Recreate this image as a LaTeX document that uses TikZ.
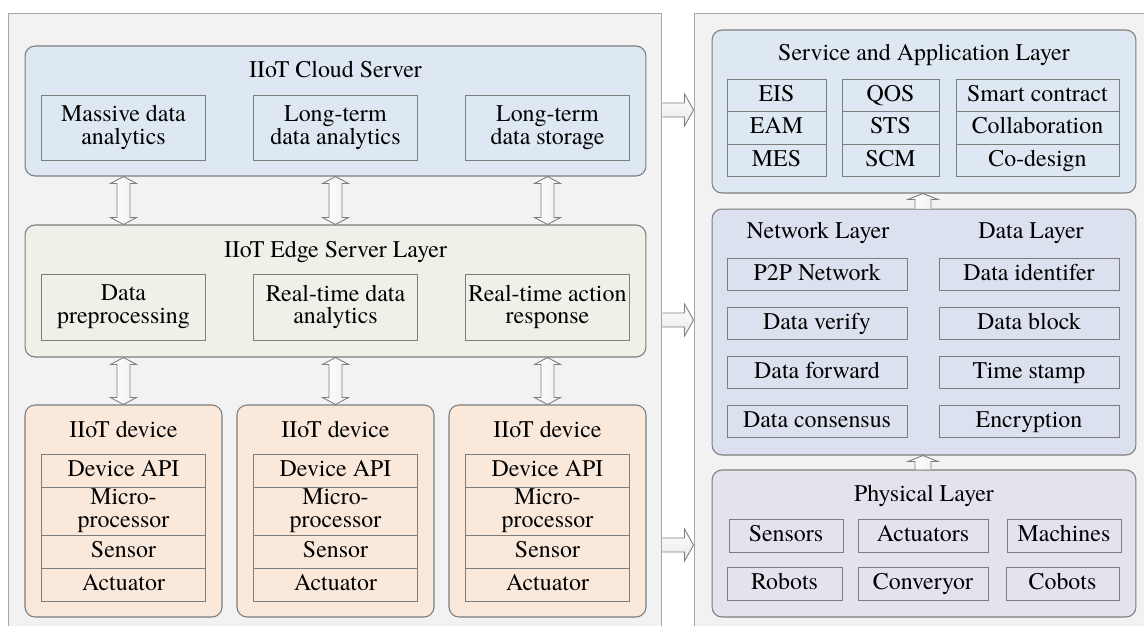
\documentclass[tikz,border=0pt]{standalone}
\usepackage{fontspec}
\setmainfont{texgyretermes}[Extension=.otf, UprightFont=*-regular, BoldFont=*-bold,
  ItalicFont=*-italic, BoldItalicFont=*-bolditalic]
\usetikzlibrary{calc}

\definecolor{panelbg}{RGB}{242,242,242}
\definecolor{panelline}{RGB}{166,166,166}
\definecolor{boxline}{RGB}{125,125,125}
\definecolor{cloudblue}{RGB}{222,232,242}
\definecolor{edgegreen}{RGB}{238,241,232}
\definecolor{devpeach}{RGB}{250,232,219}
\definecolor{netblue}{RGB}{219,225,239}
\definecolor{physlilac}{RGB}{229,226,238}

\tikzset{
  panel/.style={draw=panelline, fill=panelbg, line width=0.6pt, inner sep=0pt},
  layer/.style={draw=boxline, rounded corners=0.2cm, line width=0.6pt, inner sep=0pt},
  item/.style={draw=boxline, line width=0.5pt, align=center, inner sep=0pt},
  cell/.style={item, text height=9.5pt, text depth=3pt},
  dblarrow/.style={draw=boxline, line width=0.5pt, left color=white, right color=gray!12},
  sidearrow/.style={draw=boxline, line width=0.5pt, top color=white, bottom color=gray!18},
}

\begin{document}
\begin{tikzpicture}[x=0.02cm, y=-0.02cm, font=\fontsize{13.6pt}{13pt}\selectfont]
    \useasboundingbox (0,0) rectangle (1144,626);
    \clip (0,0) rectangle (1144,626);

    % Panels
    \node [panel, minimum width=13.08cm, minimum height=12.54cm] (leftpanel) at (335,326.5) {};
    \node [panel, minimum width=9.32cm, minimum height=12.54cm] (rightpanel) at (927,326.5) {};

    % IIoT cloud server
    \node [layer, fill=cloudblue, minimum width=12.42cm, minimum height=2.6cm] (cloud) at (335.5,111) {};
    \node (cloudtitle) at (335.5,70) {IIoT Cloud Server};
    \node [item, minimum width=3.28cm, minimum height=1.3cm] (ca1) at (123.5,127.5) {Massive data\\analytics};
    \node [item, minimum width=3.28cm, minimum height=1.3cm] (ca2) at (335.5,127.5) {Long-term\\data analytics};
    \node [item, minimum width=3.28cm, minimum height=1.3cm] (ca3) at (547.5,127.5) {Long-term\\data storage};

    % IIoT edge server layer
    \node [layer, fill=edgegreen, minimum width=12.42cm, minimum height=2.64cm] (edge) at (335.5,291) {};
    \node (edgetitle) at (335.5,252) {IIoT Edge Server Layer};
    \node [item, minimum width=3.28cm, minimum height=1.32cm] (ea1) at (123.5,307) {Data\\preprocessing};
    \node [item, minimum width=3.28cm, minimum height=1.32cm] (ea2) at (335.5,307) {Real-time data\\analytics};
    \node [item, minimum width=3.28cm, minimum height=1.32cm] (ea3) at (547.5,307) {Real-time action\\response};

    % IIoT devices
    \foreach \c/\x in {1/123.5, 2/335.5, 3/547.5} {
      \node [layer, fill=devpeach, minimum width=3.94cm, minimum height=4.24cm] (dev\c) at (\x,511) {};
      \node (devtitle\c) at (\x,430) {IIoT device};
      \node [cell, minimum width=3.28cm, minimum height=0.66cm] (api\c) at (\x,470.5) {Device API};
      \node [item, minimum width=3.28cm, minimum height=0.96cm] (mcu\c) at (\x,511) {Micro-\\processor};
      \node [cell, minimum width=3.28cm, minimum height=0.66cm] (sen\c) at (\x,551.5) {Sensor};
      \node [cell, minimum width=3.28cm, minimum height=0.66cm] (act\c) at (\x,584.5) {Actuator};
    }

    % Double arrows cloud <-> edge <-> devices
    \foreach \c in {1,2,3} {
      \path (ca\c |- cloud.south) coordinate (t) (ea\c |- edge.north) coordinate (b);
      \draw [dblarrow] (t) -- ([shift={(13,7)}]t) -- ([shift={(6.5,7)}]t) -- ([shift={(6.5,-7)}]b)
            -- ([shift={(13,-7)}]b) -- (b) -- ([shift={(-13,-7)}]b) -- ([shift={(-6.5,-7)}]b)
            -- ([shift={(-6.5,7)}]t) -- ([shift={(-13,7)}]t) -- cycle;
      \path (ea\c |- edge.south) coordinate (t) (dev\c.north) coordinate (b);
      \draw [dblarrow] (t) -- ([shift={(13,7)}]t) -- ([shift={(6.5,7)}]t) -- ([shift={(6.5,-7)}]b)
            -- ([shift={(13,-7)}]b) -- (b) -- ([shift={(-13,-7)}]b) -- ([shift={(-6.5,-7)}]b)
            -- ([shift={(-6.5,7)}]t) -- ([shift={(-13,7)}]t) -- cycle;
    }

    % Service and application layer
    \node [layer, fill=cloudblue, minimum width=8.48cm, minimum height=3.26cm] (service) at (924,111.5) {};
    \node (servicetitle) at (924,55) {Service and Application Layer};
    \foreach \c/\x/\w/\ta/\tb/\tc in {1/776.5/1.98/EIS/EAM/MES, 2/890.5/1.94/QOS/STS/SCM,
                                      3/1037.5/3.26/Smart contract/Collaboration/Co-design} {
      \node [cell, minimum width=\w cm, minimum height=0.65cm] (sa\c) at (\x,95.5) {\ta};
      \node [cell, minimum width=\w cm, minimum height=0.65cm] (sb\c) at (\x,128) {\tb};
      \node [cell, minimum width=\w cm, minimum height=0.65cm] (sc\c) at (\x,160.5) {\tc};
    }

    % Network and data layer
    \node [layer, fill=netblue, minimum width=8.48cm, minimum height=4.92cm] (network) at (924,332) {};
    \node (nettitle) at (818,233) {Network Layer};
    \node (datatitle) at (1031,233) {Data Layer};
    \foreach \r/\y/\na/\da in {1/274.5/P2P Network/Data identifer, 2/323.5/Data verify/Data block,
                               3/372.5/Data forward/Time stamp, 4/421.5/Data consensus/Encryption} {
      \node [cell, minimum width=3.6cm, minimum height=0.65cm] (na\r) at (817,\y) {\na};
      \node [cell, minimum width=3.6cm, minimum height=0.65cm] (da\r) at (1029,\y) {\da};
    }

    % Physical layer
    \node [layer, fill=physlilac, minimum width=8.48cm, minimum height=2.94cm] (physical) at (924,543.5) {};
    \node (phystitle) at (924,496) {Physical Layer};
    \node [cell, minimum width=2.28cm, minimum height=0.66cm] (pa1) at (786,535.5) {Sensors};
    \node [cell, minimum width=2.6cm, minimum height=0.66cm] (pa2) at (923,535.5) {Actuators};
    \node [cell, minimum width=2.28cm, minimum height=0.66cm] (pa3) at (1064,535.5) {Machines};
    \node [cell, minimum width=2.3cm, minimum height=0.66cm] (pb1) at (784.5,584) {Robots};
    \node [cell, minimum width=2.6cm, minimum height=0.66cm] (pb2) at (923,584) {Converyor};
    \node [cell, minimum width=2.26cm, minimum height=0.66cm] (pb3) at (1062.5,584) {Cobots};

    % Up arrows between right layers
    \foreach \lo/\hi in {network/service, physical/network} {
      \path (923,0 |- \lo.north) coordinate (t) (923,0 |- \hi.south) coordinate (h);
      \draw [dblarrow] ([shift={(-8,0)}]t) -- ([shift={(-8,6)}]h) -- ([shift={(-15,6)}]h) -- (h)
            -- ([shift={(15,6)}]h) -- ([shift={(8,6)}]h) -- ([shift={(8,0)}]t);
    }

    % Arrows from left panel to right panel
    \foreach \y in {110, 320, 545} {
      \path (leftpanel.east |- 0,\y) coordinate (t) (rightpanel.west |- 0,\y) coordinate (h);
      \draw [sidearrow] ([shift={(0,-7)}]t) -- ([shift={(-9,-7)}]h) -- ([shift={(-9,-16)}]h) -- (h)
            -- ([shift={(-9,16)}]h) -- ([shift={(-9,7)}]h) -- ([shift={(0,7)}]t);
    }
\end{tikzpicture}
\end{document}
